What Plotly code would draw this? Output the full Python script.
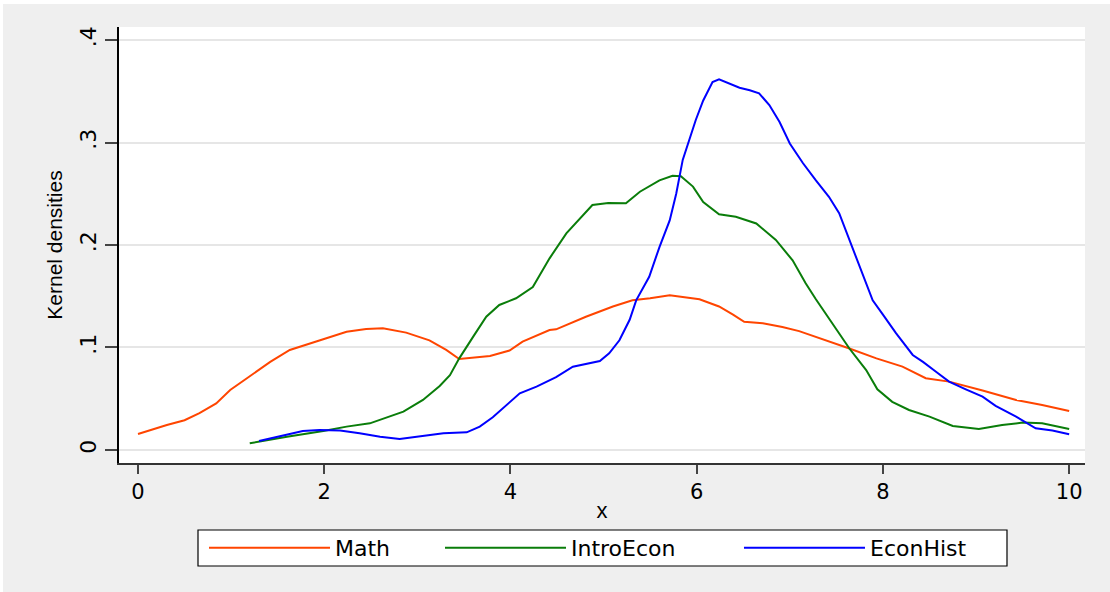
import plotly.graph_objects as go

# ---- data ----
math_x = [0.0, 0.31, 0.5, 0.66, 0.84, 0.99, 1.17, 1.42, 1.63, 1.95, 2.24, 2.45, 2.63, 2.88, 3.13, 3.31,
          3.45, 3.78, 3.99, 4.13, 4.42, 4.49, 4.81, 5.1, 5.31, 5.5, 5.71, 6.03, 6.24, 6.39, 6.51, 6.71,
          6.92, 7.1, 7.39, 7.64, 7.93, 8.21, 8.46, 8.71, 9.07, 9.43, 9.71, 10.0]
math_y = [0.0156, 0.0244, 0.029, 0.036, 0.0455, 0.0585, 0.070, 0.086, 0.0976, 0.107, 0.1154, 0.118, 0.1187,
          0.1145, 0.107, 0.0976, 0.0888, 0.0917, 0.097, 0.1057, 0.117, 0.1177, 0.130, 0.140, 0.146, 0.148,
          0.151, 0.147, 0.140, 0.132, 0.125, 0.1236, 0.120, 0.116, 0.107, 0.099, 0.0894, 0.0813, 0.070,
          0.0667, 0.058, 0.0488, 0.0439, 0.038]

intro_x = [1.2, 1.6, 1.99, 2.24, 2.49, 2.7, 2.85, 3.06, 3.24, 3.35, 3.45, 3.6, 3.74, 3.88, 4.06, 4.24,
           4.42, 4.6, 4.78, 4.88, 5.05, 5.24, 5.39, 5.6, 5.74, 5.83, 5.96, 6.07, 6.24, 6.42, 6.64, 6.85,
           7.03, 7.17, 7.28, 7.46, 7.64, 7.82, 7.94, 8.1, 8.28, 8.5, 8.75, 9.03, 9.28, 9.5, 9.71, 10.0]
intro_y = [0.0065, 0.013, 0.0185, 0.0228, 0.026, 0.0325, 0.0374, 0.0488, 0.0624, 0.073, 0.0894, 0.1106,
           0.130, 0.1415, 0.148, 0.159, 0.187, 0.2114, 0.229, 0.239, 0.241, 0.2407, 0.252, 0.263, 0.2676,
           0.267, 0.257, 0.242, 0.230, 0.2276, 0.221, 0.205, 0.185, 0.1626, 0.147, 0.1236, 0.099, 0.078,
           0.0592, 0.047, 0.039, 0.0325, 0.0234, 0.0205, 0.0244, 0.0267, 0.026, 0.0205]

hist_x = [1.3, 1.52, 1.77, 1.95, 2.17, 2.38, 2.6, 2.81, 3.03, 3.28, 3.53, 3.67, 3.81, 3.96, 4.1, 4.28,
          4.42, 4.49, 4.67, 4.81, 4.96, 5.06, 5.17, 5.28, 5.35, 5.49, 5.6, 5.71, 5.78, 5.85, 5.92, 5.99,
          6.07, 6.17, 6.24, 6.32, 6.46, 6.57, 6.67, 6.78, 6.89, 7.0, 7.14, 7.28, 7.42, 7.53, 7.64, 7.89,
          8.0, 8.14, 8.32, 8.43, 8.57, 8.71, 8.89, 9.07, 9.21, 9.43, 9.64, 9.82, 10.0]
hist_y = [0.0088, 0.013, 0.0185, 0.0195, 0.0189, 0.0163, 0.013, 0.0107, 0.013, 0.0163, 0.0172, 0.0228,
          0.0319, 0.0439, 0.0553, 0.0618, 0.0683, 0.071, 0.0813, 0.0839, 0.0868, 0.0943, 0.107, 0.127,
          0.146, 0.169, 0.198, 0.224, 0.250, 0.283, 0.302, 0.322, 0.341, 0.359, 0.3617, 0.3587, 0.3535,
          0.351, 0.348, 0.3366, 0.320, 0.299, 0.280, 0.263, 0.247, 0.231, 0.205, 0.146, 0.132, 0.114,
          0.0927, 0.086, 0.0764, 0.0667, 0.0592, 0.052, 0.043, 0.0325, 0.0211, 0.0189, 0.0153]

series_names = ["Math", "IntroEcon", "EconHist"]
series_colors = ["#FF4500", "#0A7D0A", "#0000FF"]

y_tickvals = [0, 0.1, 0.2, 0.3, 0.4]
y_ticktext = ["0", ".1", ".2", ".3", ".4"]
x_tickvals = [0, 2, 4, 6, 8, 10]
x_ticktext = ["0", "2", "4", "6", "8", "10"]

FONT = "Liberation Sans, Arial, sans-serif"
WIDE = "DejaVu Sans, Liberation Sans, sans-serif"

legend_ids = ["legend", "legend2", "legend3"]
legend_xpos = [0.0880, 0.3323, 0.6418]

fig = go.Figure()
for name, xs, ys, col, lid in zip(series_names, [math_x, intro_x, hist_x], [math_y, intro_y, hist_y],
                                  series_colors, legend_ids):
    fig.add_trace(go.Scatter(x=xs, y=ys, mode="lines", name=name, legend=lid,
                             line=dict(color=col, width=2)))

legend_common = dict(orientation="h", yanchor="middle", y=-0.195, xanchor="left",
                     bgcolor="rgba(0,0,0,0)", borderwidth=0, itemwidth=121,
                     font=dict(family=WIDE, size=22, color="#000000"))

fig.update_layout(
    width=1107, height=588,
    margin=dict(l=116, r=25, t=23, b=129, autoexpand=False),
    paper_bgcolor="#EFEFEF",
    plot_bgcolor="#FFFFFF",
    font=dict(family=FONT, color="#000000", size=20),
    showlegend=True,
    legend=dict(x=legend_xpos[0], **legend_common),
    legend2=dict(x=legend_xpos[1], **legend_common),
    legend3=dict(x=legend_xpos[2], **legend_common),
    shapes=[dict(type="rect", xref="paper", yref="paper",
                 x0=0.08178, x1=0.91925, y0=-0.23624, y1=-0.15367,
                 fillcolor="#FFFFFF", line=dict(color="#000000", width=1.2), layer="above")],
    xaxis=dict(
        range=[-0.204, 10.17], tickvals=x_tickvals, ticktext=x_ticktext,
        showgrid=False, zeroline=False, showline=True, linecolor="#333333", linewidth=1.5,
        ticks="outside", ticklen=9, tickwidth=1.5, tickcolor="#444444",
        tickfont=dict(family=WIDE, size=21, color="#000000"),
        title=dict(text="x", font=dict(family=FONT, size=22), standoff=0),
        automargin=False,
    ),
    yaxis=dict(
        range=[-0.0127, 0.4127], tickvals=y_tickvals, ticktext=y_ticktext, tickangle=-90,
        showgrid=True, gridcolor="#E6E6E6", gridwidth=1.5, zeroline=False,
        showline=True, linecolor="#000000", linewidth=1.5,
        ticks="outside", ticklen=12, tickwidth=1.5, tickcolor="#444444",
        tickfont=dict(family=WIDE, size=22, color="#000000"),
        title=dict(text="Kernel densities", font=dict(family=FONT, size=21), standoff=8),
        automargin=False,
    ),
)

fig.write_html("out.html",
               post_script="document.body.style.margin='4px 0 0 3px';document.body.style.overflow='hidden';document.body.style.background='#FFFFFF';")
